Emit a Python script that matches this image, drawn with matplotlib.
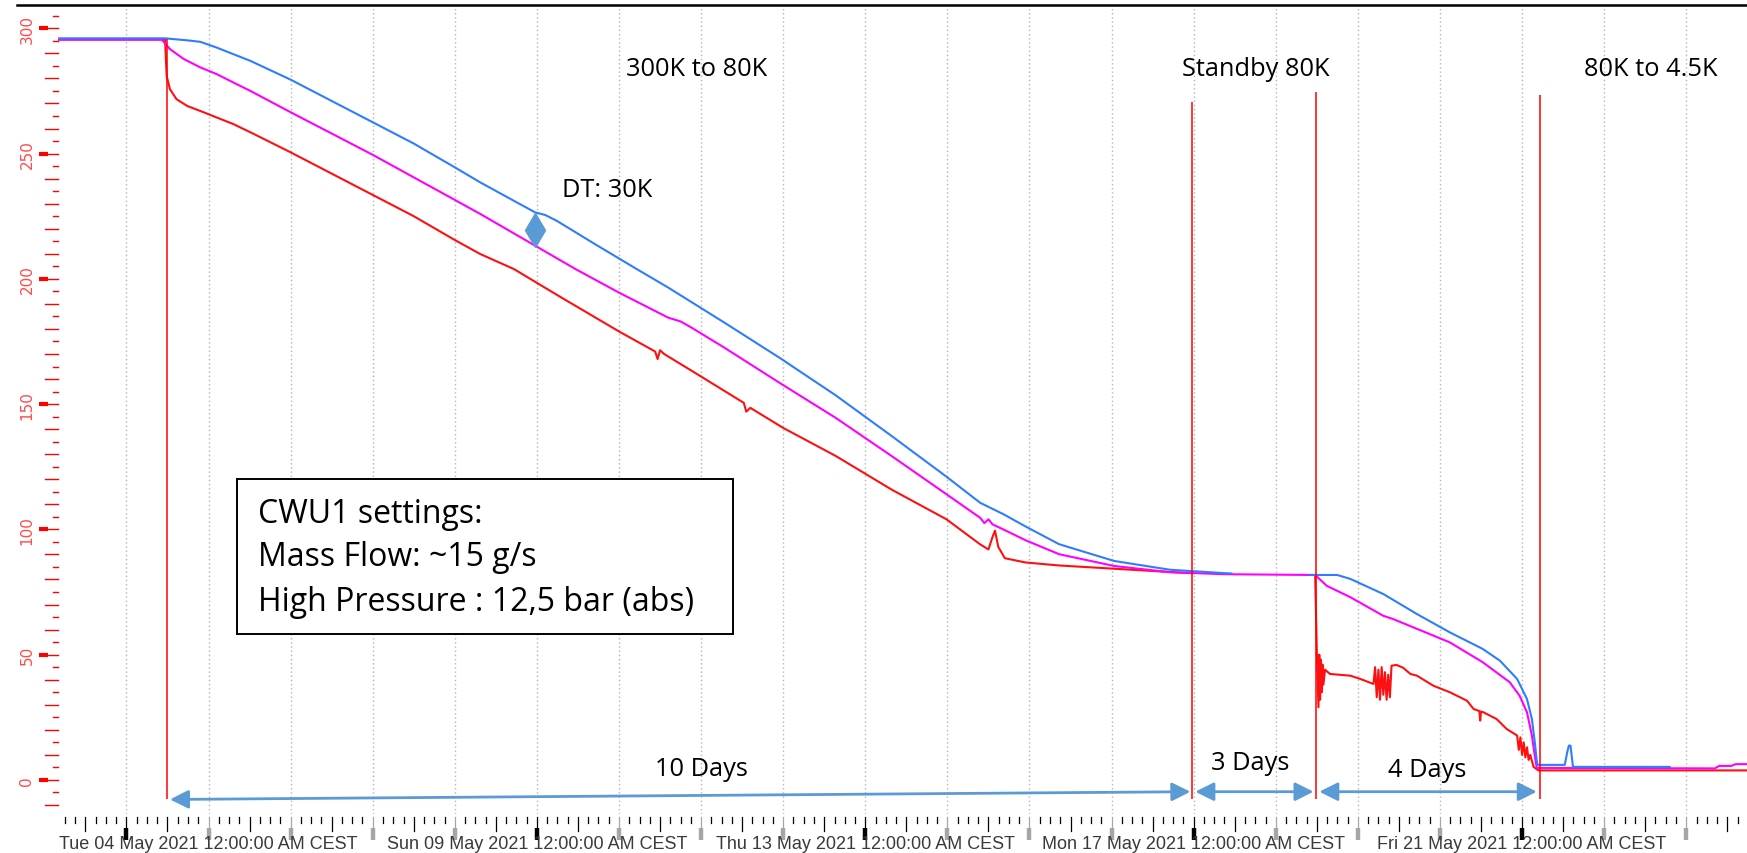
import numpy as np
import matplotlib.pyplot as plt
from matplotlib.patches import Rectangle
from matplotlib.lines import Line2D

# time axis: days after Tue 04 May 2021 00:00 CEST, values in K
blue_t = [-0.83, 0.47, 0.57, 0.74, 0.90, 1.10, 1.30, 1.51, 2.0, 2.5, 3.0, 3.5, 4.0, 4.31,
          4.7, 4.98, 5.1, 5.24, 5.7, 6.18, 6.6, 7.28, 7.96, 8.64, 9.32, 9.99, 10.4, 10.68,
          10.95, 11.36, 12.03, 12.71, 13.39, 13.46,
          np.nan,
          14.42, 14.75, 14.91, 15.31, 15.72, 16.12, 16.52, 16.73, 16.94, 17.06, 17.12, 17.16,
          17.18, 17.19, 17.52, 17.55, 17.57, 17.59, 17.62, 18.8]
blue_k = [296.0, 296.0, 295.7, 295.2, 294.6, 292.3, 289.7, 287.0, 279.5, 271.0, 262.5, 254.0, 244.5, 238.5,
          231.5, 226.5, 225.5, 223.2, 214.0, 204.6, 196.5, 182.6, 168.4, 153.5, 137.3, 121.0, 110.6, 106.1,
          101.2, 94.1, 87.4, 83.9, 82.5, 82.4,
          np.nan,
          81.8, 81.8, 80.2, 74.2, 66.2, 58.9, 52.3, 47.6, 40.3, 32.3, 24.3, 13.7,
          7.2, 6.0, 6.0, 11.0, 13.7, 13.7, 5.2, 5.2]

magenta_t = [-0.83, 0.43, 0.53, 0.70, 0.90, 1.10, 1.30, 1.51, 2.0, 2.5, 3.0, 3.5, 4.0, 4.31,
             4.98, 5.47, 6.0, 6.6, 6.75, 6.88, 7.28, 7.96, 8.64, 9.32, 9.99, 10.40, 10.45,
             10.50, 10.55, 10.68, 10.95, 11.36, 12.03, 12.71, 13.39, 14.48, 14.62, 14.91,
             15.31, 15.43, 15.72, 16.12, 16.52, 16.85, 16.97, 17.06, 17.12, 17.16, 17.18,
             19.35, 19.40, 19.55, 19.60, 19.74]
magenta_k = [295.5, 295.5, 291.7, 287.7, 284.4, 281.7, 278.4, 275.0, 266.5, 258.0, 249.5, 240.5, 231.5, 225.9,
             213.2, 203.9, 194.5, 184.5, 183.0, 180.6, 172.6, 158.4, 144.5, 129.3, 114.0, 104.6, 102.5,
             104.0, 102.0, 100.0, 95.7, 90.1, 85.4, 82.9, 82.1, 81.8, 77.5, 72.9,
             65.5, 64.2, 60.3, 54.9, 47.0, 39.0, 33.6, 27.0, 17.7, 8.4, 4.8,
             4.6, 5.6, 5.6, 6.3, 6.3]

red_t = [-0.83, 0.47, 0.49, 0.53, 0.61, 0.74, 0.90, 1.10, 1.30, 1.51, 2.0, 2.5, 3.0, 3.5, 4.0,
         4.31, 4.72, 5.3, 6.0, 6.44, 6.47, 6.50, 6.55, 7.0, 7.52, 7.55, 7.60, 8.0, 8.64, 9.32,
         9.99, 10.4, 10.5, 10.55, 10.58, 10.62, 10.7, 10.95, 11.36, 12.03, 12.71, 12.98,
         np.nan,
         14.48, 14.50, 14.52, 14.53, 14.54, 14.55, 14.56, 14.57, 14.58, 14.60, 14.66, 14.91,
         15.03, 15.19, 15.21, 15.23, 15.25, 15.27, 15.29, 15.31, 15.33, 15.35, 15.37, 15.39,
         15.41, 15.47, 15.55, 15.64, 15.72, 15.92, 16.12, 16.33, 16.41, 16.48, 16.49, 16.50,
         16.53, 16.69, 16.81, 16.94, 16.96, 16.98, 17.00, 17.02, 17.04, 17.06, 17.08, 17.10,
         17.14, 17.2, 19.74]
red_k = [295.5, 295.5, 281.0, 275.7, 271.7, 269.0, 267.0, 264.4, 261.8, 258.5, 250.5, 242.0, 233.5, 225.0, 215.5,
         209.9, 203.9, 192.5, 179.0, 171.0, 168.0, 171.5, 170.0, 161.0, 150.5, 147.0, 148.5, 140.5, 129.3, 115.9,
         104.0, 94.0, 92.0, 97.0, 99.5, 93.0, 88.5, 86.8, 85.6, 84.3, 83.0, 82.5,
         np.nan,
         81.8, 51.0, 29.0, 50.0, 32.0, 48.0, 35.0, 46.0, 38.0, 44.0, 42.3, 41.6,
         40.3, 38.3, 45.0, 33.0, 44.0, 32.0, 45.0, 34.0, 43.0, 32.0, 42.0, 33.0,
         45.6, 45.9, 44.8, 42.3, 41.6, 37.6, 35.0, 31.6, 28.3, 27.5, 23.7, 27.3,
         27.0, 24.3, 20.4, 17.7, 12.0, 17.0, 10.0, 15.0, 9.0, 13.0, 8.0, 10.0,
         5.2, 3.8, 3.8]

date_days = [0, 5, 9, 13, 17]
date_labels = ['Tue 04 May 2021 12:00:00 AM CEST', 'Sun 09 May 2021 12:00:00 AM CEST',
               'Thu 13 May 2021 12:00:00 AM CEST', 'Mon 17 May 2021 12:00:00 AM CEST',
               'Fri 21 May 2021 12:00:00 AM CEST']
phase_days = [0.49, 12.98, 14.49, 17.22]
phase_tops = [295.7, 270.7, 274.4, 273.5]
phase_names = ['300K to 80K', 'Standby 80K', '80K to 4.5K']
span_labels = ['10 Days', '3 Days', '4 Days']
settings = ['CWU1 settings:', 'Mass Flow: ~15 g/s', 'High Pressure : 12,5 bar (abs)']

W, H = 1747, 854
L, T, B = 58.3, 6, 815          # plot area edges in pixels
axw, axh = W - L, B - T

fig = plt.figure(figsize=(W / 100, H / 100), dpi=100)
ax = fig.add_axes([L / W, 1 - B / H, axw / W, axh / H])
ax.set_xlim(-0.83, 19.74)
ax.set_ylim(-13.6, 309.3)
ax.set_xticks([])
ax.set_yticks([])
for s in ax.spines.values():
    s.set_visible(False)

# dotted day grid
for d in range(0, 20):
    ax.axvline(d, color='#b5b5b5', ls=(0, (1, 2)), lw=1, zorder=0)

# curves
ax.plot(red_t, red_k, color='#ff1010', lw=1.5, zorder=2)
ax.plot(magenta_t, magenta_k, color='#ff00ff', lw=1.5, zorder=3)
ax.plot(blue_t, blue_k, color='#2e7dff', lw=1.5, zorder=4)

# phase separators
ax.vlines(phase_days, -7.8, phase_tops, color='#ff0000', lw=1.1, zorder=5)

# headers
hfont = dict(family='Open Sans', fontsize=18.3, color='black')
ax.text(6.94, 284.0, phase_names[0], ha='center', va='center', **hfont)
ax.text(13.76, 284.0, phase_names[1], ha='center', va='center', **hfont)
ax.text(18.57, 284.0, phase_names[2], ha='center', va='center', **hfont)
ax.text(5.85, 235.8, 'DT: 30K', ha='center', va='center', **hfont)
ax.plot([4.98], [219.6], marker='d', ms=17, color='#5b9bd5', mec='#5b9bd5', zorder=6)

# duration arrows
arw = dict(arrowstyle='<|-|>,head_length=0.8,head_width=0.4', color='#5b9bd5', lw=2,
           mutation_scale=14, shrinkA=0, shrinkB=0)
ax.annotate('', xy=(12.96, -4.7), xytext=(0.53, -7.8), arrowprops=arw, zorder=6)
ax.annotate('', xy=(14.46, -4.7), xytext=(13.02, -4.7), arrowprops=arw, zorder=6)
ax.annotate('', xy=(17.18, -4.7), xytext=(14.53, -4.7), arrowprops=arw, zorder=6)
ax.text(7.01, 4.7, span_labels[0], ha='center', va='center', **hfont)
ax.text(13.69, 6.9, span_labels[1], ha='center', va='center', **hfont)
ax.text(15.85, 4.2, span_labels[2], ha='center', va='center', **hfont)

# settings box
ax.add_patch(Rectangle((1.35, 58.3), 6.04, 61.8, fc='white', ec='black', lw=1.4, zorder=7))
for line, v in zip(settings, [106.5, 89.0, 71.4]):
    ax.text(1.60, v, line, ha='left', va='center', family='Open Sans', fontsize=23,
            color='black', zorder=8)

# x axis tick row drawn under the plot
xt = ax.get_xaxis_transform()
def below(p):
    return -p / axh
for t in np.arange(-0.75, 19.74, 0.125):
    if abs(t - round(t)) < 1e-6:
        continue
    half = abs(t * 2 - round(t * 2)) < 1e-6
    ax.plot([t, t], [below(3), below(17 if half else 9)], color='black', lw=0.9,
            transform=xt, clip_on=False)
for d in range(0, 20):
    c = 'black' if d in date_days else '#a6a6a6'
    ax.plot([d, d], [below(3), below(15)], color=c, lw=0.9, transform=xt, clip_on=False)
    ax.plot([d, d], [below(14), below(26)], color=c, lw=3.2, solid_capstyle='butt',
            transform=xt, clip_on=False)
for d, lab in zip(date_days, date_labels):
    if d == date_days[0]:
        ax.text(-0.82, below(30), lab, ha='left', va='center', transform=xt,
                family='Liberation Sans', fontsize=13, color='#3a3a3a')
    else:
        ax.text(d, below(30), lab, ha='center', va='center', transform=xt,
                family='Liberation Sans', fontsize=13, color='#3a3a3a')

# red y axis on the left
yt = ax.get_yaxis_transform()
def left(p):
    return (p - L) / axw
for v in range(-10, 306, 5):
    if v % 50 == 0:
        ax.plot([left(47), left(58.3)], [v, v], color='#ff0000', lw=1, transform=yt, clip_on=False)
        ax.plot([left(39.5), left(48)], [v, v], color='#ff0000', lw=3, solid_capstyle='butt',
                transform=yt, clip_on=False)
        ax.text(left(27), v, str(v), rotation=90, ha='center', va='center', transform=yt,
                family='DejaVu Sans', fontsize=11, color='#ff4a4a')
    elif v % 10 == 0:
        ax.plot([left(45.5), left(58.3)], [v, v], color='#ff0000', lw=1, transform=yt, clip_on=False)
    else:
        ax.plot([left(53), left(58.3)], [v, v], color='#ff0000', lw=1, transform=yt, clip_on=False)

# top border
fig.add_artist(Line2D([17 / W, 1], [1 - 6 / H, 1 - 6 / H], color='black', lw=1.8))

fig.savefig('out.png', dpi=100)
